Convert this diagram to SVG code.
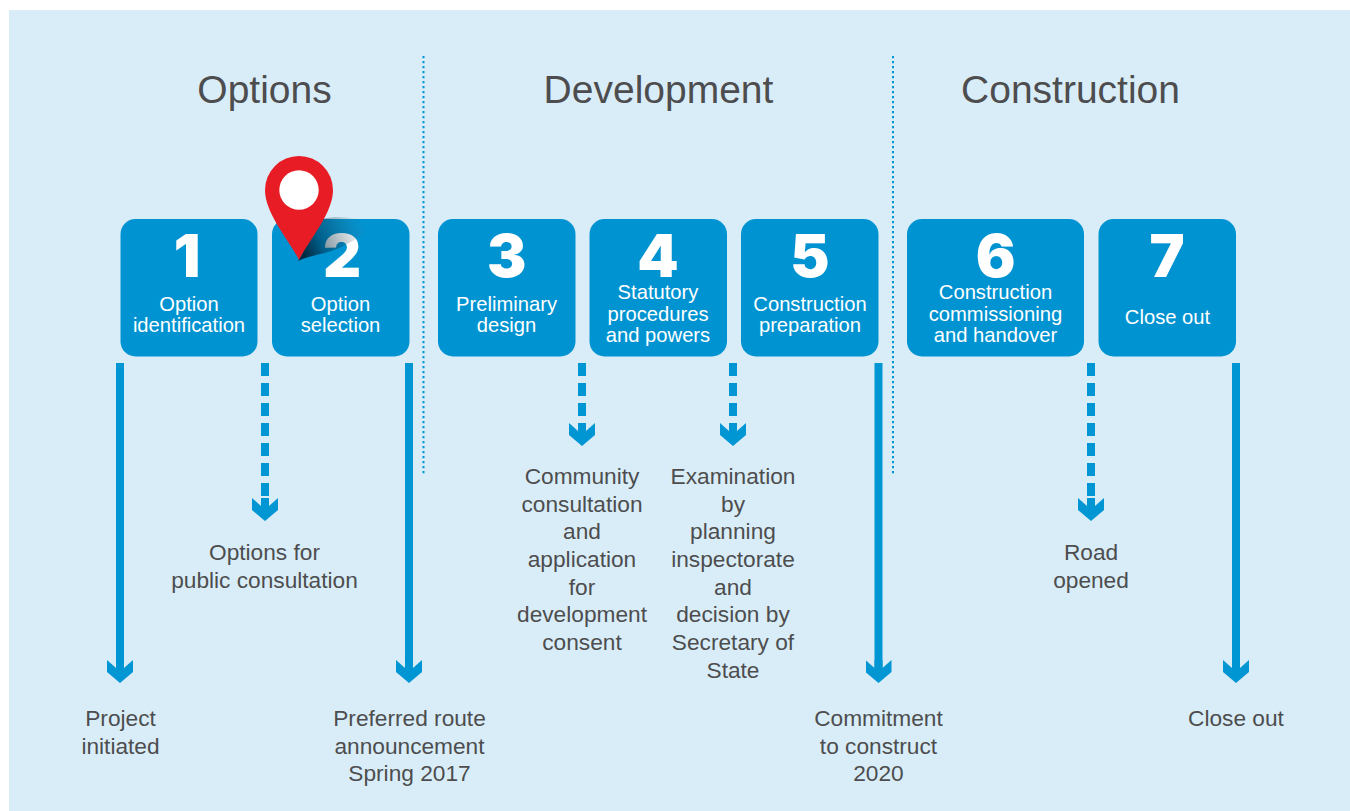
<svg xmlns="http://www.w3.org/2000/svg" width="1350" height="811" viewBox="0 0 1350 811">
<style>
text{font-family:"Liberation Sans",Arial,sans-serif;text-anchor:middle}
.box{fill:#0093d1}
.num{font-family:Inter,"Liberation Sans",sans-serif;font-size:59px;font-weight:900;fill:#fff}
.lab{font-size:20.200px;fill:#fff}
.dark{font-size:22.700px;fill:#4d4d4f}
.head{font-size:39px;fill:#4d4d4f}
.div{stroke:#0095d3;stroke-width:2;stroke-dasharray:2.200 2.800;fill:none}
.solid,.dash{stroke:#0095d3;stroke-width:8;fill:none;marker-end:url(#arr)}
.dash{stroke-dasharray:13 7}
</style>
<defs>
<marker id="arr" markerUnits="userSpaceOnUse" markerWidth="26" markerHeight="23" refX="13" refY="12" orient="0" viewBox="0 0 26 23">
<path d="M0 0L9 8V0H17V8L26 0V12L13 23L0 12Z" fill="#0095d3"/>
</marker>
<linearGradient id="shadow" gradientUnits="userSpaceOnUse" x1="303" y1="252" x2="365" y2="225">
<stop offset="0" stop-color="#00283f" stop-opacity=".98"/>
<stop offset=".3" stop-color="#002a42" stop-opacity=".5"/>
<stop offset=".62" stop-color="#1a3a4a" stop-opacity=".26"/>
<stop offset="1" stop-color="#667" stop-opacity="0"/>
</linearGradient>
</defs>
<rect x="9" y="10" width="1341" height="801" fill="#d9edf8"/>
<path class="div" d="M423.500 56V474M893 56V474"/>
<g id="phases">
<text class="head" x="264.500" y="103">Options</text>
<text class="head" x="658.500" y="103">Development</text>
<text class="head" x="1070.500" y="103">Construction</text>
</g>
<g id="connectors">
<path class="solid" d="M120 363V672"/>
<path class="dash" d="M265 363V510"/>
<path class="solid" d="M409 363V672"/>
<path class="dash" d="M582 363V435"/>
<path class="dash" d="M733 363V435"/>
<path class="solid" d="M878.500 363V672"/>
<path class="dash" d="M1091 363V510"/>
<path class="solid" d="M1236 363V672"/>
</g>
<g id="node1"><rect class="box" x="120.500" y="219" width="137" height="137.500" rx="15"/><text class="num" x="187" y="277">1</text><text class="lab" x="189" y="311">Option</text><text class="lab" x="189" y="332">identification</text></g>
<g id="node2"><rect class="box" x="272" y="219" width="137.500" height="137.500" rx="15"/><text class="num" x="342" y="277">2</text><text class="lab" x="340.500" y="311">Option</text><text class="lab" x="340.500" y="332">selection</text></g>
<g id="node3"><rect class="box" x="438" y="219" width="137.500" height="137.500" rx="15"/><text class="num" x="506.700" y="277">3</text><text class="lab" x="506.500" y="311">Preliminary</text><text class="lab" x="506.500" y="332">design</text></g>
<g id="node4"><rect class="box" x="589.500" y="219" width="137.500" height="137.500" rx="15"/><text class="num" x="658" y="277">4</text><text class="lab" x="658" y="299">Statutory</text><text class="lab" x="658" y="321">procedures</text><text class="lab" x="658" y="342">and powers</text></g>
<g id="node5"><rect class="box" x="741" y="219" width="137.500" height="137.500" rx="15"/><text class="num" x="810" y="277">5</text><text class="lab" x="810" y="311">Construction</text><text class="lab" x="810" y="332">preparation</text></g>
<g id="node6"><rect class="box" x="907" y="219" width="177" height="137.500" rx="15"/><text class="num" x="995.700" y="277">6</text><text class="lab" x="995.500" y="299">Construction</text><text class="lab" x="995.500" y="321">commissioning</text><text class="lab" x="995.500" y="342">and handover</text></g>
<g id="node7"><rect class="box" x="1098.500" y="219" width="137.500" height="137.500" rx="15"/><text class="num" x="1167" y="277">7</text><text class="lab" x="1167.500" y="324">Close out</text></g>
<g id="pin">
<path d="M298 261C312 254 330 254 345 245C355 240 365 234 372 228C364 219 345 214 322 219Z" fill="url(#shadow)"/>
<path d="M299 260C290 241 265 214 265 190A34 34 0 0 1 333 190C333 214 308 241 299 260Z" fill="#e81c24"/>
<circle cx="299" cy="190" r="19.700" fill="#fff"/>
</g>
<g id="outcomes">
<text class="dark" x="120.500" y="726">Project</text><text class="dark" x="120.500" y="754">initiated</text>
<text class="dark" x="264.500" y="560">Options for</text><text class="dark" x="264.500" y="588">public consultation</text>
<text class="dark" x="409.500" y="726">Preferred route</text><text class="dark" x="409.500" y="754">announcement</text><text class="dark" x="409.500" y="781">Spring 2017</text>
<text class="dark" x="582" y="484">Community</text><text class="dark" x="582" y="512">consultation</text><text class="dark" x="582" y="539">and</text><text class="dark" x="582" y="567">application</text><text class="dark" x="582" y="595">for</text><text class="dark" x="582" y="622">development</text><text class="dark" x="582" y="650">consent</text>
<text class="dark" x="733" y="484">Examination</text><text class="dark" x="733" y="512">by</text><text class="dark" x="733" y="539">planning</text><text class="dark" x="733" y="567">inspectorate</text><text class="dark" x="733" y="595">and</text><text class="dark" x="733" y="622">decision by</text><text class="dark" x="733" y="650">Secretary of</text><text class="dark" x="733" y="678">State</text>
<text class="dark" x="878.500" y="726">Commitment</text><text class="dark" x="878.500" y="754">to construct</text><text class="dark" x="878.500" y="781">2020</text>
<text class="dark" x="1091" y="560">Road</text><text class="dark" x="1091" y="588">opened</text>
<text class="dark" x="1236" y="726">Close out</text>
</g>
</svg>
